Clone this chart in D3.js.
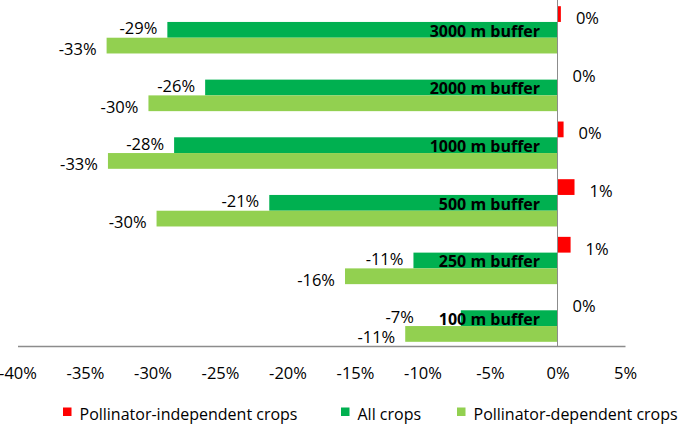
<!DOCTYPE html>
<html>
<head>
<meta charset="utf-8">
<script src="https://cdn.jsdelivr.net/npm/d3@7"></script>
<style>
  html, body { margin: 0; padding: 0; background: #fff; }
  svg { display: block; font-family: "Open Sans", sans-serif; }
</style>
</head>
<body>
<svg id="chart" width="685" height="424"></svg>
<script>
// ---- data ----
const categories = ["3000 m buffer", "2000 m buffer", "1000 m buffer", "500 m buffer", "250 m buffer", "100 m buffer"];
const seriesNames = ["Pollinator-independent crops", "All crops", "Pollinator-dependent crops"];
const independentValues = [0.25, 0.0, 0.45, 1.26, 0.97, 0.0];
const allCropsValues = [-28.9, -26.1, -28.4, -21.35, -10.67, -7.16];
const dependentValues = [-33.4, -30.3, -33.3, -29.7, -15.74, -11.28];
const tickValues = [-40, -35, -30, -25, -20, -15, -10, -5, 0, 5];
const seriesColors = ["#FF0000", "#00B050", "#92D050"];

const seriesValues = [independentValues, allCropsValues, dependentValues];

const svg = d3.select("#chart");

const x = d3.scaleLinear().domain([-40, 5]).range([17.5, 625]);
const y = d3.scaleBand().domain(categories).range([1, 347]).paddingInner(0.18).paddingOuter(0.09);
const ySub = d3.scaleBand().domain(d3.range(seriesNames.length)).range([0, y.bandwidth()]);

const fmt = v => Math.round(v) + "%";

// bars
const groups = svg.append("g").selectAll("g")
  .data(categories)
  .join("g")
  .attr("transform", d => `translate(0,${y(d)})`);

seriesNames.forEach((name, si) => {
  groups.append("rect")
    .attr("x", (d, i) => Math.min(x(0), x(seriesValues[si][i])))
    .attr("y", ySub(si))
    .attr("width", (d, i) => Math.abs(x(seriesValues[si][i]) - x(0)))
    .attr("height", ySub.bandwidth())
    .attr("fill", seriesColors[si]);
});

// zero line
svg.append("line")
  .attr("x1", x(0)).attr("x2", x(0))
  .attr("y1", 0).attr("y2", 346)
  .attr("stroke", "#8c8c8c").attr("stroke-width", 1);

// x axis
const axis = d3.axisBottom(x).tickValues(tickValues).tickSize(0).tickPadding(0).tickFormat(d => d + "%");
const axG = svg.append("g").attr("transform", "translate(0,346)").call(axis);
axG.select(".domain").attr("stroke", "#8c8c8c").attr("stroke-width", 1.3);
axG.selectAll(".tick text")
  .attr("y", 33).attr("dy", 0)
  .attr("font-family", "Open Sans").attr("font-size", 16.5).attr("fill", "#000");

// category labels (bold, inside green bars)
const catLabels = groups.append("text")
  .attr("x", x(0) - 17.5)
  .attr("y", ySub(1) + ySub.bandwidth() - 1)
  .attr("text-anchor", "end")
  .attr("font-weight", "bold")
  .attr("font-size", 16)
  .attr("fill", "#000")
  .text(d => d);

// value labels
groups.each(function(d, i) {
  const g = d3.select(this);
  const catBox = g.select("text").node().getBBox();
  // independent (positive)
  g.append("text")
    .attr("x", Math.max(x(independentValues[i]), x(0)) + 15)
    .attr("y", ySub(0) + ySub.bandwidth() / 2 + 3.5)
    .attr("dominant-baseline", "central")
    .attr("font-size", 16.5).attr("fill", "#000")
    .text(fmt(independentValues[i]));
  // all crops
  g.append("text")
    .attr("x", Math.min(x(allCropsValues[i]) - 10, catBox.x - 25))
    .attr("y", ySub(1) + ySub.bandwidth() / 2 - 2)
    .attr("dominant-baseline", "central")
    .attr("text-anchor", "end")
    .attr("font-size", 16.5).attr("fill", "#000")
    .text(fmt(allCropsValues[i]));
  // dependent
  g.append("text")
    .attr("x", x(dependentValues[i]) - 10)
    .attr("y", ySub(2) + ySub.bandwidth() / 2 + 3)
    .attr("dominant-baseline", "central")
    .attr("text-anchor", "end")
    .attr("font-size", 16.5).attr("fill", "#000")
    .text(fmt(dependentValues[i]));
});

// legend
const legendX = [63, 341, 457];
const legend = svg.append("g").selectAll("g")
  .data(seriesNames)
  .join("g")
  .attr("transform", (d, i) => `translate(${legendX[i]},407.5)`);
legend.append("rect").attr("width", 8.5).attr("height", 8.5).attr("fill", (d, i) => seriesColors[i]);
legend.append("text")
  .attr("x", 16.5).attr("y", 12.5)
  .attr("font-size", 16).attr("fill", "#000")
  .text(d => d);
</script>
</body>
</html>
